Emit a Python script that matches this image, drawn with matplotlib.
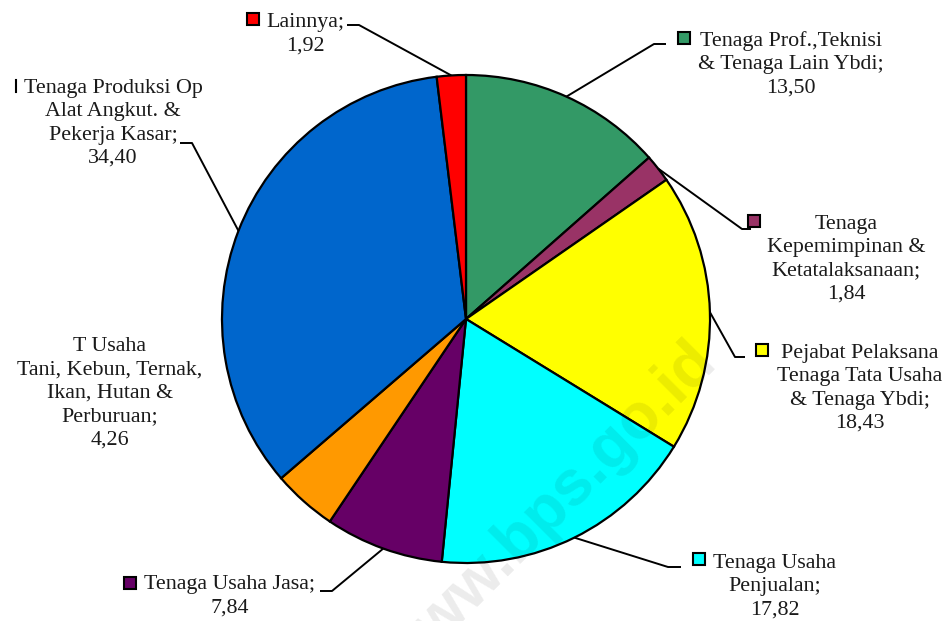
import numpy as np
import matplotlib
matplotlib.use("Agg")
import matplotlib.pyplot as plt

plt.rcParams["font.family"] = ["Liberation Serif", "DejaVu Serif"]

# 数据：按顺时针顺序（自 12 点方向开始）
labels = [
    "Tenaga Prof.,Teknisi\n& Tenaga Lain Ybdi;",
    "Tenaga\nKepemimpinan &\nKetatalaksanaan;",
    "Pejabat Pelaksana\nTenaga Tata Usaha\n& Tenaga Ybdi;",
    "Tenaga Usaha\nPenjualan;",
    "Tenaga Usaha Jasa;",
    "T Usaha\nTani, Kebun, Ternak,\nIkan, Hutan &\nPerburuan;",
    "Tenaga Produksi Op\nAlat Angkut. &\nPekerja Kasar;",
    "Lainnya;",
]
values = [13.50, 1.84, 18.43, 17.82, 7.84, 4.26, 34.40, 1.92]
colors = ["#339966", "#993366", "#FFFF00", "#00FFFF",
          "#660066", "#FF9900", "#0066CC", "#FF0000"]

W, H = 949, 621
CX, CY, R = 466, 319, 244  # 像素坐标（y 向下）

# 标签布局：文字中心 x、首行中心 y、图例方块中心、引线拐点、引线终点（像素）
layout = [
    dict(tx=791, ty=39, mk=(684, 38), elbow=(654, 44), end=(666, 44)),
    dict(tx=846, ty=223, mk=(754, 221), elbow=(742, 229), end=(751, 229)),
    dict(tx=860, ty=352, mk=(762, 350), elbow=(735, 357), end=(745, 357)),
    dict(tx=775, ty=562, mk=(699, 559), elbow=(668, 567), end=(681, 567)),
    dict(tx=230, ty=583, mk=(130, 583), elbow=(332, 591), end=(320, 591)),
    dict(tx=110, ty=345, mk=None, elbow=None, end=None),
    dict(tx=113, ty=87, mk=None, elbow=(192, 143), end=(180, 143)),
    dict(tx=305, ty=21, mk=(253, 19), elbow=(359, 25), end=(347, 25)),
]


def py(y):
    return H - y


fig = plt.figure(figsize=(W / 100, H / 100), dpi=100)
ax = fig.add_axes([0, 0, 1, 1])
ax.pie(values, colors=colors, startangle=90, counterclock=False,
       center=(CX, py(CY)), radius=R, frame=True,
       wedgeprops=dict(edgecolor="black", linewidth=1.6))
ax.set_xlim(0, W)
ax.set_ylim(0, H)
ax.set_aspect("equal")
ax.axis("off")

total = sum(values)
cum = np.cumsum([0] + values)
for i, (lab, v, c, lay) in enumerate(zip(labels, values, colors, layout)):
    val = f"{v:.2f}".replace(".", ",")
    ax.text(lay["tx"], py(lay["ty"]) + 8, lab + "\n" + val, ha="center", va="top",
            multialignment="center", fontsize=15.8, linespacing=1.31, color="#1a1a1a")
    if lay["mk"] is not None:
        ax.plot(lay["mk"][0], py(lay["mk"][1]), marker="s", ms=8.5,
                mfc=c, mec="black", mew=1.5, zorder=5)
    if lay["elbow"] is not None:
        mid = np.deg2rad((cum[i] + v / 2) / total * 360)
        ex, ey = CX + R * np.sin(mid), CY - R * np.cos(mid)
        xs = [ex, lay["elbow"][0], lay["end"][0]]
        ys = [py(ey), py(lay["elbow"][1]), py(lay["end"][1])]
        ax.plot(xs, ys, color="black", lw=1.4, solid_capstyle="butt", zorder=1)

# Produksi 方块被裁切，只露出右边框
ax.plot([16, 16], [py(80), py(92)], color="black", lw=1.5)

# 水印
ax.text(548, py(512), "www.bps.go.id", rotation=45, ha="center", va="center",
        fontsize=46, fontweight="bold", family="Liberation Sans",
        color="black", alpha=0.08, zorder=10)

fig.savefig("out.png", dpi=100)
